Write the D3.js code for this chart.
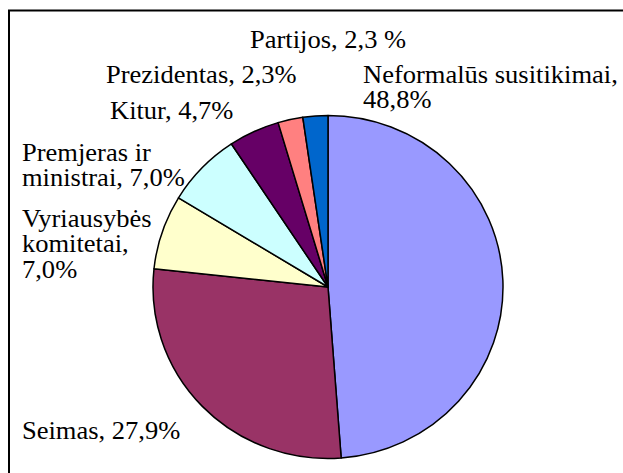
<!DOCTYPE html>
<html>
<head>
<meta charset="utf-8">
<script src="https://cdn.jsdelivr.net/npm/d3@7"></script>
</head>
<body style="margin:0">
<svg class="chart" width="623" height="473"></svg>
<script>
// data
var categories = ["Neformalūs susitikimai", "Seimas", "Vyriausybės komitetai", "Premjeras ir ministrai", "Kitur", "Prezidentas", "Partijos"];
var shares = [48.8, 27.9, 7.0, 7.0, 4.7, 2.3, 2.3];
var labelLines = [
  ["Neformalūs susitikimai,", "48,8%"],
  ["Seimas, 27,9%"],
  ["Vyriausybės", "komitetai,", "7,0%"],
  ["Premjeras ir", "ministrai, 7,0%"],
  ["Kitur, 4,7%"],
  ["Prezidentas, 2,3%"],
  ["Partijos, 2,3 %"]
];

// layout
var sliceColors = ["#9999ff", "#993366", "#ffffcc", "#ccffff", "#660066", "#ff8080", "#0066cc"];
var labelAnchors = [[363, 83], [22, 439], [22, 226.7], [22, 161], [110, 119], [106, 83], [250, 48]];
var cx = 328, cy = 287, ry = 171.5, rx = 175;
var stretch = rx / ry;   // the original picture is a bit wider than tall
var lineGap = 25.5;

var svg = d3.select("svg.chart");

// frame, only left and top edges are inside the picture
svg.append("rect")
    .attr("x", 9)
    .attr("y", 10.5)
    .attr("width", 700)
    .attr("height", 600)
    .attr("fill", "none")
    .attr("stroke", "#000")
    .attr("stroke-width", 2);

var data = categories.map(function(c, i) { return { name: c, value: shares[i] }; });

var color = d3.scaleOrdinal()
    .domain(categories)
    .range(sliceColors);

var pie = d3.pie()
    .sort(null)
    .value(function(d) { return d.value; });

var arc = d3.arc()
    .innerRadius(0)
    .outerRadius(ry);

var g = svg.append("g")
    .attr("transform", "translate(" + cx + "," + cy + ") scale(" + stretch + ",1)");

g.selectAll("path")
  .data(pie(data))
  .enter().append("path")
    .attr("d", arc)
    .attr("fill", function(d) { return color(d.data.name); })
    .attr("stroke", "#000")
    .attr("stroke-width", 1.5)
    .attr("vector-effect", "non-scaling-stroke")
    .attr("stroke-linejoin", "round");

var labels = svg.append("g")
    .attr("transform", "scale(" + stretch + ",1)")
  .selectAll("text")
  .data(labelLines)
  .enter().append("text")
    .style("font-family", "'Liberation Serif'")
    .style("font-size", "26px")
    .attr("fill", "#000")
    .attr("x", function(d, i) { return labelAnchors[i][0] / stretch; })
    .attr("y", function(d, i) { return labelAnchors[i][1]; });

labels.selectAll("tspan")
  .data(function(d, i) { return d.map(function(t) { return { t: t, i: i }; }); })
  .enter().append("tspan")
    .attr("x", function(d) { return labelAnchors[d.i][0] / stretch; })
    .attr("dy", function(d, j) { return j === 0 ? 0 : lineGap; })
    .text(function(d) { return d.t; });
</script>
</body>
</html>
